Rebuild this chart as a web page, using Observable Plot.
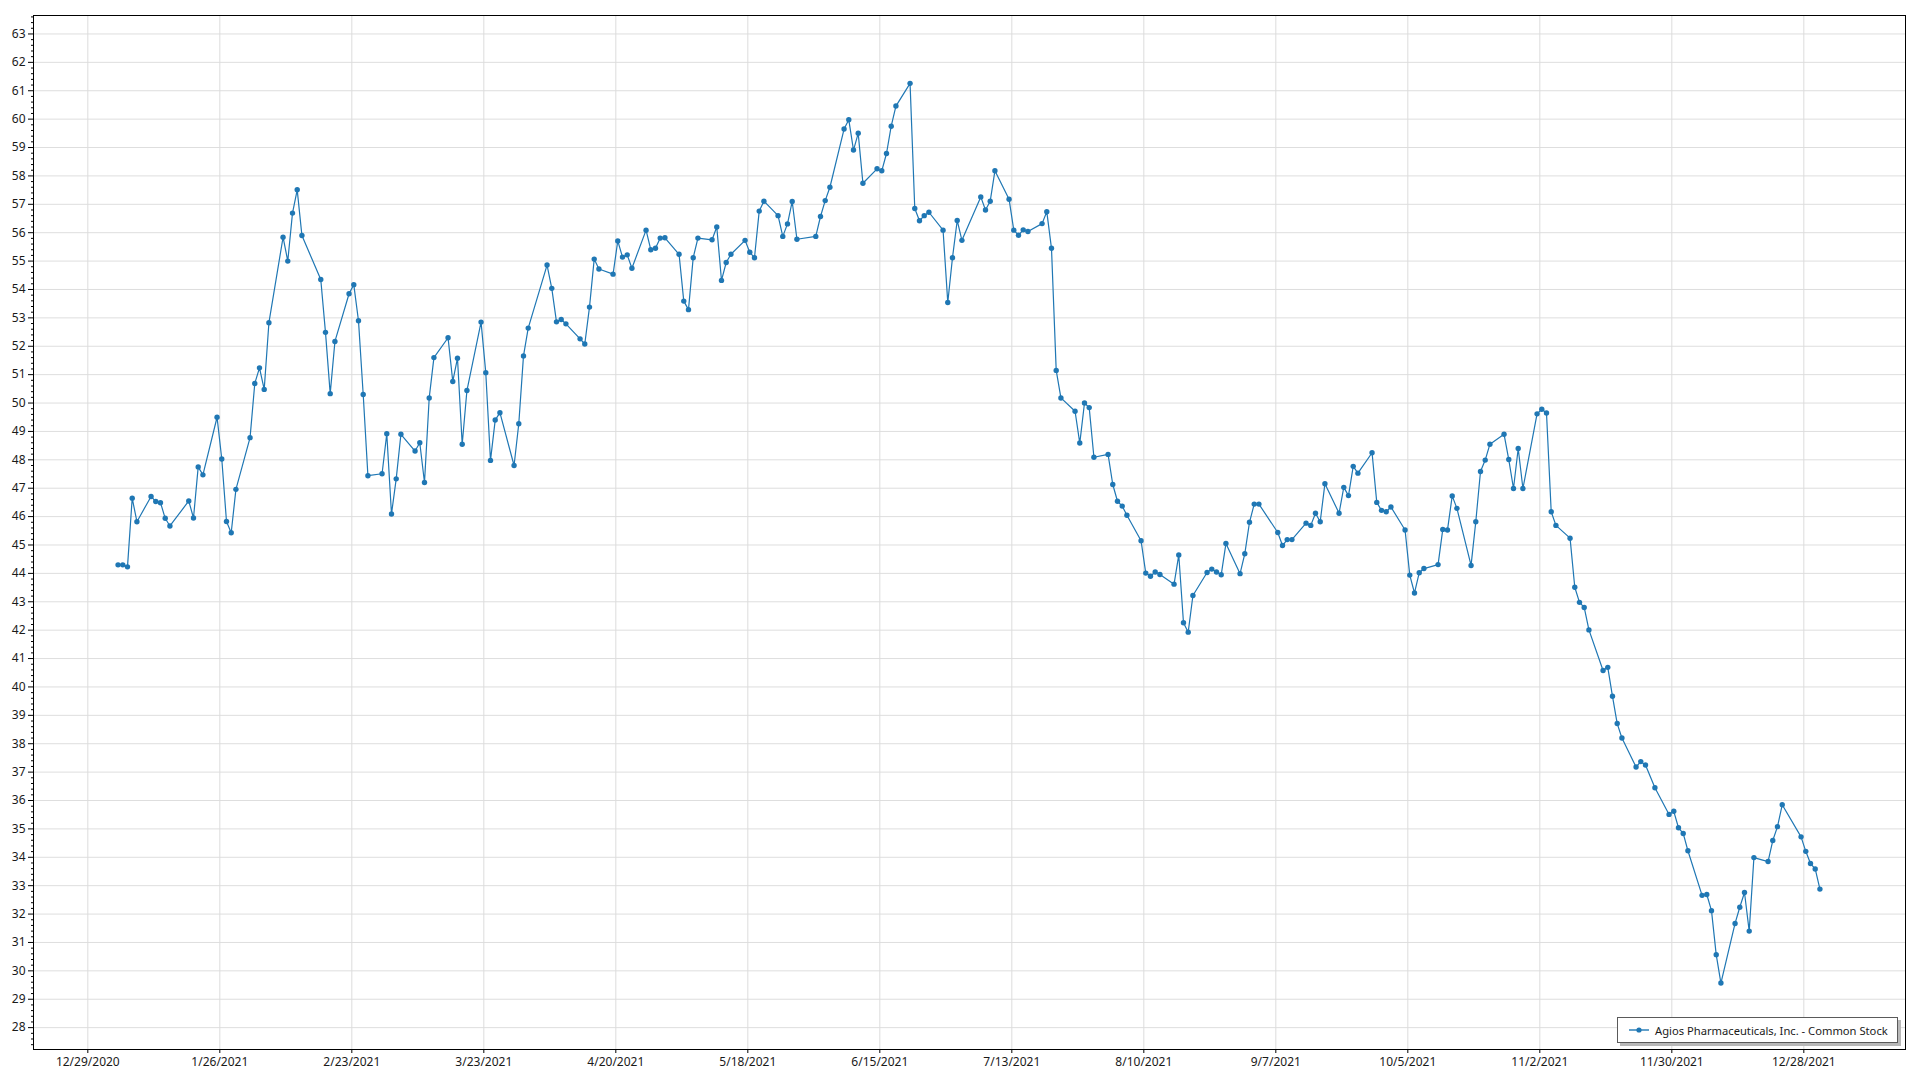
<!DOCTYPE html>
<html>
<head>
<meta charset="utf-8">
<script src="https://cdn.jsdelivr.net/npm/d3@7"></script>
<script src="https://cdn.jsdelivr.net/npm/@observablehq/plot@0.6"></script>
<style>
  html, body { margin: 0; padding: 0; background: #fff; }
  #wrap { position: relative; width: 1920px; height: 1080px; overflow: hidden; }
  #legend {
    position: absolute; left: 1617px; top: 1017px; width: 279px; height: 24px;
    border: 1px solid #5a5a5a; background: #fff; box-shadow: 3px 3px 0 #b8b8b8;
    display: flex; align-items: center; font-family: "Noto Sans", sans-serif;
    font-size: 11.2px; color: #1a1a1a; white-space: nowrap;
  }
  #legend svg { margin-left: 10px; margin-right: 5px; }
</style>
</head>
<body>
<div id="wrap">
  <div id="chart"></div>
  <div id="legend"></div>
</div>
<script>
const seriesName = "Agios Pharmaceuticals, Inc. - Common Stock";

const janDays  = [4,5,6,7,8,11,12,13,14,15,19,20,21,22,25,26,27,28,29];
const janClose = [44.30,44.30,44.23,46.65,45.82,46.71,46.53,46.49,45.94,45.67,46.55,45.95,47.75,47.47,49.50,48.03,45.83,45.43,46.96];
const febDays  = [1,2,3,4,5,8,9,10,11,12,16,17,18,19,22,23,24,25,26];
const febClose = [48.78,50.69,51.24,50.48,52.83,55.84,55.00,56.69,57.51,55.90,54.35,52.49,50.33,52.17,53.85,54.17,52.90,50.30,47.44];
const marDays  = [1,2,3,4,5,8,9,10,11,12,15,16,17,18,19,22,23,24,25,26,29,30,31];
const marClose = [47.51,48.92,46.09,47.33,48.90,48.31,48.60,47.20,50.18,51.60,52.30,50.76,51.58,48.55,50.44,52.85,51.07,47.98,49.40,49.66,47.80,49.27,51.66];
const aprDays  = [1,5,6,7,8,9,12,13,14,15,16,19,20,21,22,23,26,27,28,29,30];
const aprClose = [52.64,54.86,54.04,52.86,52.94,52.79,52.26,52.08,53.38,55.07,54.72,54.54,55.71,55.14,55.22,54.75,56.09,55.40,55.45,55.81,55.82];
const mayDays  = [3,4,5,6,7,10,11,12,13,14,17,18,19,20,21,24,25,26,27,28];
const mayClose = [55.24,53.59,53.29,55.12,55.81,55.75,56.20,54.32,54.95,55.24,55.73,55.31,55.12,56.76,57.11,56.60,55.87,56.31,57.10,55.77];
const junDays  = [1,2,3,4,7,8,9,10,11,14,15,16,17,18,21,22,23,24,25,28,29,30];
const junClose = [55.87,56.57,57.13,57.60,59.65,59.98,58.91,59.50,57.74,58.25,58.18,58.79,59.75,60.46,61.26,56.85,56.42,56.60,56.72,56.09,53.54,55.12];
const julDays  = [1,2,6,7,8,9,12,13,14,15,16,19,20,21,22,23,26,27,28,29,30];
const julClose = [56.43,55.73,57.26,56.80,57.11,58.18,57.18,56.09,55.91,56.10,56.04,56.32,56.74,55.45,51.15,50.18,49.71,48.59,50.00,49.84,48.09];
const augDays  = [2,3,4,5,6,9,10,11,12,13,16,17,18,19,20,23,24,25,26,27,30,31];
const augClose = [48.19,47.13,46.54,46.37,46.05,45.15,44.01,43.90,44.05,43.96,43.62,44.65,42.26,41.93,43.22,44.03,44.15,44.05,43.95,45.05,43.99,44.69];
const sepDays  = [1,2,3,7,8,9,10,13,14,15,16,17,20,21,22,23,24,27,28,29,30];
const sepClose = [45.80,46.44,46.44,45.44,44.98,45.19,45.19,45.77,45.69,46.12,45.82,47.16,46.12,47.03,46.74,47.77,47.53,48.25,46.50,46.22,46.17];
const octDays  = [1,4,5,6,7,8,11,12,13,14,15,18,19,20,21,22,25,26,27,28,29];
const octClose = [46.34,45.53,43.94,43.31,44.02,44.17,44.31,45.55,45.53,46.73,46.29,44.28,45.82,47.59,47.99,48.55,48.90,48.01,46.99,48.40,46.99];
const novDays  = [1,2,3,4,5,8,9,10,11,12,15,16,17,18,19,22,23,24,26,29,30];
const novClose = [49.62,49.78,49.65,46.17,45.69,45.24,43.51,42.98,42.80,42.01,40.58,40.69,39.67,38.71,38.20,37.18,37.37,37.25,36.45,35.51,35.62];
const decDays  = [1,2,3,6,7,8,9,10,13,14,15,16,17,20,21,22,23,27,28,29,30,31];
const decClose = [35.04,34.84,34.23,32.66,32.69,32.12,30.57,29.57,31.67,32.24,32.76,31.40,33.99,33.85,34.59,35.08,35.85,34.72,34.21,33.78,33.59,32.88];

const xTickLabels = ["12/29/2020","1/26/2021","2/23/2021","3/23/2021","4/20/2021","5/18/2021","6/15/2021",
                     "7/13/2021","8/10/2021","9/7/2021","10/5/2021","11/2/2021","11/30/2021","12/28/2021"];
const yTickValues = d3.range(28, 64);

const monthTable = [
  [0, janDays, janClose], [1, febDays, febClose], [2, marDays, marClose], [3, aprDays, aprClose],
  [4, mayDays, mayClose], [5, junDays, junClose], [6, julDays, julClose], [7, augDays, augClose],
  [8, sepDays, sepClose], [9, octDays, octClose], [10, novDays, novClose], [11, decDays, decClose]
];
// quotes are stamped at the session time of day (about 10:00), as in the source chart
const data = monthTable.flatMap(([m, days, closes]) =>
  days.map((d, i) => ({ date: new Date(Date.UTC(2021, m, d, 10)), close: closes[i] })));

const parseTick = d3.utcParse("%m/%d/%Y");
const xTicks = xTickLabels.map(s => parseTick(s));
const yMinor = d3.range(27.4, 63.61, 0.2).filter(v => Math.abs(v - Math.round(v)) > 0.01);

const color = "#1f77b4";

const chart = Plot.plot({
  width: 1920,
  height: 1080,
  marginLeft: 33,
  marginRight: 15,
  marginTop: 15,
  marginBottom: 31,
  style: { fontFamily: "Noto Sans, sans-serif", fontSize: "12px", color: "#1a1a1a", background: "#fff" },
  x: { type: "utc", label: null, domain: [new Date(Date.UTC(2020, 11, 17, 11, 30)), new Date(Date.UTC(2022, 0, 18, 13, 40))] },
  y: { label: null, domain: [27.23, 63.65] },
  marks: [
    Plot.gridY(yTickValues, { stroke: "#dedede", strokeOpacity: 1 }),
    Plot.gridX(xTicks, { stroke: "#dcdcdc", strokeOpacity: 1 }),
    Plot.axisY(yMinor, { tickSize: 2, tickFormat: () => "", stroke: "#000" }),
    Plot.axisY(yTickValues, { tickSize: 5, tickPadding: 3, stroke: "#000", tickFormat: d => String(d) }),
    Plot.axisX(xTicks, { tickSize: 4, tickPadding: 4, stroke: "#000", tickFormat: d3.utcFormat("%-m/%-d/%Y") }),
    Plot.frame({ stroke: "#000" }),
    Plot.line(data, { x: "date", y: "close", stroke: color, strokeWidth: 1.2 }),
    Plot.dot(data, { x: "date", y: "close", r: 2.7, fill: color, stroke: "none" })
  ]
});
document.getElementById("chart").appendChild(chart);

const legend = document.getElementById("legend");
legend.innerHTML =
  `<svg width="22" height="10"><line x1="1" y1="5" x2="21" y2="5" stroke="${color}" stroke-opacity="0.7" stroke-width="2"/>` +
  `<circle cx="11" cy="5" r="2.6" fill="${color}"/></svg><span></span>`;
legend.querySelector("span").textContent = seriesName;
</script>
</body>
</html>
